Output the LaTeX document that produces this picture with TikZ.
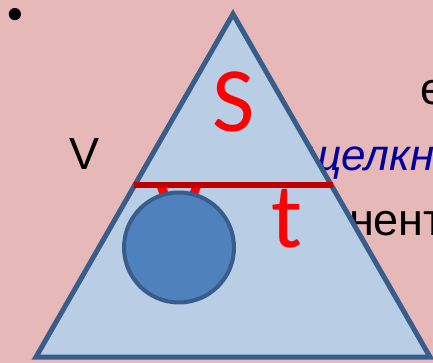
\documentclass[tikz,border=0pt]{standalone}
\usepackage{fontspec}
\setmainfont{Liberation Sans}
\newfontfamily\carl{Carlito}
\definecolor{bgpink}{HTML}{E6B8B7}
\definecolor{trifill}{HTML}{B9CDE5}
\definecolor{tristroke}{HTML}{385D8A}
\definecolor{ballfill}{HTML}{4F81BD}
\definecolor{darkred}{HTML}{C00000}
\definecolor{linkblue}{HTML}{00009C}
\tikzset{
  bgtext/.style={inner sep=0pt, outer sep=0pt, text=black, font=\fontsize{45}{54}\selectfont},
  redtxt/.style={inner sep=0pt, outer sep=0pt, text=red, font=\carl\fontsize{92}{92}\selectfont},
  tri/.style={draw=tristroke, fill=trifill, line width=5pt, line join=miter},
  ball/.style={draw=tristroke, fill=ballfill, line width=4pt},
  redline/.style={draw=darkred, line width=6pt}
}
\begin{document}
\begin{tikzpicture}[x=1pt,y=-1pt]
\useasboundingbox (0,0) rectangle (433,363);
\fill[bgpink] (0,0) rectangle (433,363);
% background text
\node[bgtext, anchor=base] (bul) at (15.5,29.5) {•};
\node[bgtext, anchor=base] (V) at (85,170) {V};
\node[bgtext, anchor=base west] (e) at (420,105) {е};
\node[bgtext, anchor=base west, text=linkblue, font=\fontsize{44}{54}\selectfont\itshape] (sh) at (304,171) {щелкни};
\node[bgtext, anchor=base west] (nent) at (349,235) {нент};
% triangle
\coordinate (A) at (233,14);
\coordinate (B) at (36,357);
\coordinate (C) at (430,357);
\draw[tri] (A) -- (B) -- (C) -- cycle;
% letters
\node[redtxt, anchor=base] (S) at (234,132) {S};
\node[redtxt, anchor=base] (t) at (287,247) {t};
\node[redtxt, anchor=base, font=\carl\fontsize{110}{110}\selectfont] (v) at (179,236) {v};
% ball
\node[ball, circle, minimum size=110pt, inner sep=0pt] (ball) at (179,247.5) {};
% red line
\coordinate (L) at (134,185);
\coordinate (R) at (333,185);
\draw[redline] (L) -- (R);
\end{tikzpicture}
\end{document}
